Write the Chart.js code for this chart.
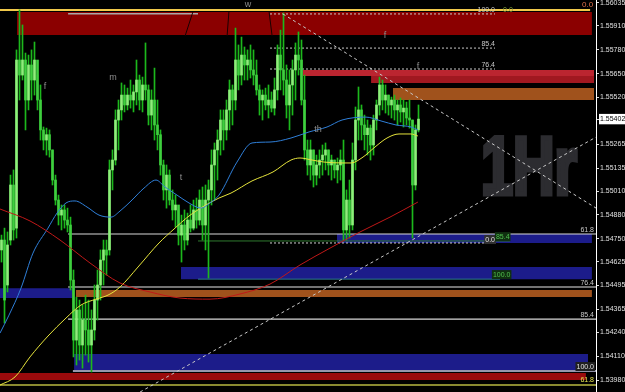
<!DOCTYPE html>
<html><head><meta charset="utf-8">
<script src="https://cdn.jsdelivr.net/npm/chart.js@4.4.1/dist/chart.umd.min.js"></script>
<style>html,body{margin:0;padding:0;background:#000;overflow:hidden}#wrap{width:625px;height:392px;position:relative}</style>
</head><body><div id="wrap"><canvas id="c" width="625" height="392"></canvas></div>
<script>
// ---------- DATA ----------
const candleHigh = [
1.54770,1.54808,1.54787,1.55097,1.55125,1.55779,1.55997,1.55915,1.55762,1.55751,
1.55779,1.55822,1.55642,1.55588,1.55359,1.55353,1.55343,1.55234,1.55097,1.54988,
1.54934,1.54934,1.54917,1.54868,1.54580,1.54432,1.54416,1.54389,1.54443,1.54416,
1.54362,1.54498,1.54580,1.54689,1.54743,1.54743,1.55179,1.55234,1.55452,1.55506,
1.55599,1.55588,1.55571,1.55615,1.55588,1.55724,1.55642,1.55631,1.55817,1.55588,
1.55561,1.55680,1.55506,1.55343,1.55179,1.55152,1.55125,1.55016,1.54988,1.54907,
1.54879,1.54907,1.54890,1.54934,1.54961,1.54972,1.55016,1.55032,1.55043,1.55070,
1.55234,1.55272,1.55343,1.55452,1.55452,1.55506,1.55615,1.55588,1.55898,1.55806,
1.55849,1.55795,1.55779,1.55806,1.55779,1.55724,1.55588,1.55561,1.55571,1.55588,
1.55550,1.55626,1.55806,1.55887,1.55980,1.55697,1.55670,1.55724,1.55817,1.55877,
1.55833,1.55642,1.55288,1.55288,1.55234,1.55206,1.55234,1.55261,1.55272,1.55234,
1.55206,1.55179,1.55190,1.55234,1.55288,1.55016,1.55070,1.55272,1.55468,1.55577,
1.55479,1.55424,1.55397,1.55370,1.55424,1.55506,1.55631,1.55615,1.55588,1.55533,
1.55522,1.55533,1.55506,1.55517,1.55506,1.55495,1.55506,1.55397,1.55370,1.55479];
const candleLow = [
1.54623,1.54291,1.54460,1.54716,1.54743,1.54754,1.55506,1.55615,1.55343,1.55452,
1.55506,1.55533,1.55452,1.55288,1.55234,1.55206,1.55195,1.55043,1.54934,1.54825,
1.54798,1.54808,1.54787,1.54471,1.54106,1.54062,1.54089,1.54045,1.54116,1.54078,
1.54024,1.54198,1.54307,1.54416,1.54498,1.54552,1.54661,1.55016,1.55152,1.55234,
1.55397,1.55441,1.55452,1.55462,1.55441,1.55479,1.55452,1.55441,1.55506,1.55370,
1.55343,1.55288,1.55234,1.55097,1.54961,1.54917,1.54934,1.54852,1.54814,1.54716,
1.54623,1.54689,1.54716,1.54787,1.54798,1.54808,1.54825,1.54743,1.54689,1.54536,
1.54934,1.54961,1.55070,1.55206,1.55234,1.55288,1.55343,1.55370,1.55452,1.55561,
1.55588,1.55615,1.55615,1.55626,1.55588,1.55533,1.55424,1.55397,1.55452,1.55408,
1.55441,1.55424,1.55506,1.55561,1.55533,1.55408,1.55343,1.55424,1.55506,1.55642,
1.55479,1.55179,1.55097,1.55070,1.55032,1.55043,1.55081,1.55097,1.55125,1.55097,
1.55070,1.55081,1.55054,1.55070,1.54743,1.54743,1.54754,1.54798,1.55125,1.55288,
1.55288,1.55234,1.55206,1.55179,1.55206,1.55343,1.55424,1.55452,1.55435,1.55424,
1.55408,1.55397,1.55370,1.55386,1.55359,1.55370,1.55353,1.54754,1.55016,1.55332];
const candleOpen = [
1.54689,1.54743,1.54498,1.54743,1.55043,1.54808,1.55724,1.55642,1.55724,1.55506,
1.55697,1.55615,1.55724,1.55506,1.55343,1.55288,1.55317,1.55234,1.55070,1.54961,
1.54879,1.54907,1.54852,1.54825,1.54525,1.54198,1.54362,1.54171,1.54307,1.54253,
1.54171,1.54253,1.54416,1.54498,1.54634,1.54689,1.54689,1.55125,1.55179,1.55397,
1.55452,1.55533,1.55479,1.55533,1.55506,1.55550,1.55615,1.55506,1.55588,1.55561,
1.55424,1.55506,1.55370,1.55317,1.55152,1.55016,1.55097,1.54961,1.54907,1.54934,
1.54770,1.54825,1.54743,1.54852,1.54808,1.54907,1.54852,1.54961,1.54825,1.54961,
1.55016,1.55152,1.55234,1.55288,1.55397,1.55343,1.55452,1.55561,1.55506,1.55724,
1.55642,1.55751,1.55697,1.55724,1.55670,1.55642,1.55561,1.55506,1.55533,1.55479,
1.55506,1.55462,1.55561,1.55751,1.55670,1.55615,1.55479,1.55588,1.55670,1.55751,
1.55724,1.55506,1.55234,1.55152,1.55234,1.55097,1.55152,1.55179,1.55206,1.55234,
1.55152,1.55179,1.55125,1.55152,1.55179,1.54798,1.54961,1.54825,1.55179,1.55397,
1.55452,1.55370,1.55317,1.55353,1.55261,1.55397,1.55479,1.55588,1.55506,1.55533,
1.55479,1.55506,1.55452,1.55479,1.55441,1.55462,1.55408,1.55397,1.55043,1.55343];
const candleClose = [
1.54743,1.54416,1.54716,1.55043,1.54798,1.55724,1.55642,1.55724,1.55506,1.55697,
1.55615,1.55724,1.55506,1.55343,1.55288,1.55317,1.55234,1.55070,1.54961,1.54879,
1.54907,1.54852,1.54825,1.54525,1.54198,1.54362,1.54171,1.54307,1.54253,1.54171,
1.54253,1.54416,1.54498,1.54634,1.54689,1.54661,1.55125,1.55179,1.55397,1.55452,
1.55533,1.55479,1.55533,1.55506,1.55550,1.55615,1.55506,1.55588,1.55561,1.55424,
1.55506,1.55370,1.55317,1.55152,1.55016,1.55097,1.54961,1.54907,1.54934,1.54770,
1.54825,1.54743,1.54852,1.54808,1.54907,1.54852,1.54961,1.54825,1.54961,1.55016,
1.55152,1.55234,1.55288,1.55397,1.55343,1.55452,1.55561,1.55506,1.55724,1.55642,
1.55751,1.55697,1.55724,1.55670,1.55642,1.55561,1.55506,1.55533,1.55479,1.55506,
1.55462,1.55561,1.55751,1.55670,1.55615,1.55479,1.55588,1.55670,1.55751,1.55724,
1.55506,1.55234,1.55152,1.55234,1.55097,1.55152,1.55179,1.55206,1.55234,1.55152,
1.55179,1.55125,1.55152,1.55179,1.54798,1.54961,1.54825,1.55179,1.55397,1.55452,
1.55370,1.55317,1.55353,1.55261,1.55397,1.55479,1.55588,1.55506,1.55533,1.55479,
1.55506,1.55452,1.55479,1.55441,1.55462,1.55408,1.55397,1.55043,1.55343,1.55402];

const priceTicks = [1.56035,1.55910,1.55780,1.55650,1.55520,1.55402,1.55265,1.55135,1.55010,1.54880,1.54750,1.54625,1.54495,1.54365,1.54240,1.54110,1.53980];
const currentPrice = 1.55402;

// moving averages (bar index, price)
const maRedX = [0,10,20,30,40,50,60,70,80,90,100,110,120,130,139.3];
const maRedY = [1.54912,1.54847,1.54743,1.54618,1.54509,1.54460,1.54427,1.54421,1.54449,1.54503,1.54607,1.54699,1.54787,1.54868,1.54950];
const maBlueX = [0,3,7,11,16,19,22,25,29,33,37,40,44,48,52,55,59,63,67,70,73,79,84,90,97,103,109,114,122,127,132,137,139.3];
const maBlueY = [1.54236,1.54334,1.54481,1.54672,1.54808,1.54890,1.54945,1.54956,1.54923,1.54879,1.54868,1.54901,1.54961,1.55026,1.55070,1.55032,1.54988,1.54945,1.54917,1.54945,1.54988,1.55168,1.55272,1.55277,1.55299,1.55332,1.55359,1.55397,1.55413,1.55392,1.55370,1.55359,1.55343];
const maYellowX = [0,5,10,16,22,27,32,36,40,46,53,58,63,68,73,77,84,91,97,100,104,108,114,117,121,125,129,133,137,139.3];
const maYellowY = [1.53953,1.53997,1.54106,1.54220,1.54318,1.54389,1.54421,1.54443,1.54487,1.54596,1.54727,1.54803,1.54874,1.54928,1.54972,1.54999,1.55065,1.55114,1.55179,1.55190,1.55179,1.55168,1.55163,1.55163,1.55195,1.55250,1.55299,1.55321,1.55321,1.55310];

// supply / demand zones
const zoneStart  = [5.67, 101, 123.7, 131, 112.3, 60.3, 0, 25.3, 24.7, 0];
const zoneEnd    = [197.3, 198, 198, 198, 197.3, 197.3, 24, 197.3, 196, 195.3];
const zoneTop    = [1.55986, 1.55670, 1.55637, 1.55571, 1.54776, 1.54596, 1.54481, 1.54471, 1.54122, 1.54018];
const zoneBottom = [1.55860, 1.55637, 1.55599, 1.55506, 1.54727, 1.54530, 1.54427, 1.54432, 1.54035, 1.53980];

// horizontal levels
const levelPrice = [1.55997, 1.55976, 1.55975, 1.55789, 1.55675, 1.54776, 1.54738, 1.54727, 1.54530, 1.54487, 1.54312, 1.54029, 1.53953];
const levelStart = [0, 22.7, 90, 90, 90, 22.7, 66, 90, 66, 22.7, 22.7, 24.3, 0];
const levelEnd   = [196.7, 66, 165, 165, 165, 198.7, 170, 165, 166.7, 198.7, 198.7, 198.7, 198.7];

// trend lines [x0, p0, x1, p1]
const trendA = [94.3, 1.55975, 198.7, 1.54917];
const trendB = [46.7, 1.53915, 198.7, 1.55304];
const waveLines = [[64.3,1.55986,61.7,1.55855],[76.3,1.55986,75.7,1.55855],[89.7,1.55986,90.7,1.55855]];

// ---------- STYLES ----------
const zoneColors = ['#8b0000','#bb2530','#a01820','#a0521c','#1c1c8a','#1c1c8a','#1c1c8a','#a0521c','#1c1c8a','#9a0a0c'];
const levelColors = ['#f0c84a','#a8a8a8','#c8c8c8','#c8c8c8','#c8c8c8','#d8d8d8','#2f7a2f','#d0d0d0','#2a7a86','#9a9a9a','#d8d8d8','#c8c8e6','#8a8a30'];
const levelWidths = [2,1.5,1,1,1,1.2,1,1,1,1.5,1.2,1.5,2];
const levelDashed = [false,false,true,true,true,false,false,true,false,false,false,false,false];

const textLabels = [
 {t:'w', x:82.7, p:1.56024, c:'#8c8c8c', a:'center', f:9},
 {t:'f', x:15, p:1.55582, c:'#8c8c8c', a:'center', f:9},
 {t:'m', x:37.7, p:1.55626, c:'#8c8c8c', a:'center', f:9},
 {t:'t', x:60.3, p:1.55081, c:'#8c8c8c', a:'center', f:9},
 {t:'th', x:106, p:1.55343, c:'#8c8c8c', a:'center', f:9},
 {t:'f', x:128.3, p:1.55855, c:'#8c8c8c', a:'center', f:9},
 {t:'f', x:139.3, p:1.55691, c:'#8c8c8c', a:'center', f:9},
 {t:'100.0', x:165, p:1.55997, c:'#c8c8c8', a:'right'},
 {t:'0.0', x:167.7, p:1.55997, c:'#7da03c', a:'left'},
 {t:'0.0', x:197.7, p:1.56024, c:'#e0704a', a:'right', f:8},
 {t:'85.4', x:165, p:1.55811, c:'#c8c8c8', a:'right'},
 {t:'76.4', x:165, p:1.55697, c:'#c8c8c8', a:'right'},
 {t:'61.8', x:198, p:1.54798, c:'#c8c8c8', a:'right'},
 {t:'0.0', x:165, p:1.54743, c:'#e0e0e0', a:'right', bg:'#303030'},
 {t:'85.4', x:165.3, p:1.54759, c:'#50c050', a:'left', bg:'#103010'},
 {t:'100.0', x:164.3, p:1.54552, c:'#50c050', a:'left', bg:'#103010'},
 {t:'76.4', x:198, p:1.54509, c:'#c8c8c8', a:'right'},
 {t:'85.4', x:198, p:1.54334, c:'#c8c8c8', a:'right'},
 {t:'100.0', x:198, p:1.54051, c:'#e0e0e0', a:'right', bg:'#202020'},
 {t:'61.8', x:198, p:1.53980, c:'#e6e650', a:'right'}
];

// ---------- DATASETS ----------
const datasets = [];
const seg = (x0,y0,x1,y1) => [{x:x0,y:y0},{x:x1,y:y1}];

// candles
datasets.push({type:'bar', data: candleHigh.map((h,i)=>({x:i+0.5, y:[candleLow[i], h]})),
  backgroundColor:'#1cb81c', barThickness:1, grouped:false, order:4});
datasets.push({type:'bar', data: candleOpen.map((o,i)=>({x:i+0.5, y:[o, candleClose[i]]})),
  backgroundColor: candleOpen.map((o,i)=> candleClose[i] >= o ? '#8ef07a' : '#3fcf3f'),
  barThickness:2, grouped:false, order:3});

// moving averages
[[maRedX,maRedY,'#c01818'],[maBlueX,maBlueY,'#2f7fd8'],[maYellowX,maYellowY,'#e6e43c']].forEach(([xs,ys,col])=>{
  datasets.push({type:'line', data: xs.map((x,k)=>({x, y:ys[k]})), borderColor:col, borderWidth:1,
    pointRadius:0, tension:0.4, cubicInterpolationMode:'monotone', fill:false, order:1});
});

// trend lines
[trendA, trendB].forEach(t=>{
  datasets.push({type:'line', data: seg(...t), borderColor:'#c8c8c8', borderWidth:1, borderDash:[3,3],
    pointRadius:0, fill:false, order:2});
});
waveLines.forEach(t=>{
  datasets.push({type:'line', data: seg(...t), borderColor:'#1a0000', borderWidth:1, pointRadius:0, fill:false, order:9});
});

// levels
levelPrice.forEach((p,k)=>{
  datasets.push({type:'line', data: seg(levelStart[k], p, levelEnd[k], p), borderColor:levelColors[k],
    borderWidth:levelWidths[k], borderDash: levelDashed[k] ? [2,2] : [], pointRadius:0, fill:false, order:10});
});

// zones
zoneTop.forEach((t,k)=>{
  datasets.push({type:'line', data: seg(zoneStart[k], t, zoneEnd[k], t), fill:{value: zoneBottom[k]},
    backgroundColor: zoneColors[k], borderColor:'rgba(0,0,0,0)', borderWidth:0, pointRadius:0, order:20});
});

// ---------- PLUGINS ----------
const watermark = {id:'wm', beforeDatasetsDraw(chart){
  const {ctx, scales:{x,y}} = chart;
  const px = x.getPixelForValue(160.3), py = y.getPixelForValue(1.54988);
  ctx.save();
  ctx.font = 'bold 82px "Liberation Sans", Arial, sans-serif';
  const w = ctx.measureText('1Hr').width;
  ctx.translate(px, py); ctx.scale(96/w, 1);
  ctx.fillStyle = '#2c2c30';
  ctx.strokeStyle = '#2c2c30';
  ctx.lineWidth = 5;
  ctx.lineJoin = 'miter';
  ctx.textBaseline = 'alphabetic';
  ctx.fillText('1Hr', 0, -1);
  ctx.strokeText('1Hr', 0, -1);
  ctx.restore();
}};
const labelsPlugin = {id:'lbl', afterDatasetsDraw(chart){
  const {ctx, scales:{x,y}} = chart;
  ctx.save();
  textLabels.forEach(l=>{
    const px = x.getPixelForValue(l.x), py = y.getPixelForValue(l.p);
    ctx.font = (l.f||7) + 'px "Liberation Sans", Arial, sans-serif';
    const w = ctx.measureText(l.t).width;
    const left = l.a==='right' ? px-w : (l.a==='center' ? px-w/2 : px);
    if (l.bg){ ctx.fillStyle = l.bg; ctx.fillRect(left-1, py-5, w+2, 9); }
    ctx.fillStyle = l.c; ctx.textBaseline = 'middle'; ctx.textAlign = 'left';
    ctx.fillText(l.t, left, py);
  });
  ctx.restore();
}};

new Chart(document.getElementById('c'), {
  type:'bar',
  data:{datasets},
  options:{
    responsive:false, animation:false, devicePixelRatio:1,
    layout:{padding:0},
    plugins:{legend:{display:false}, tooltip:{enabled:false}},
    scales:{
      x:{type:'linear', min:0, max:596/3, display:false, offset:false},
      y:{type:'linear', position:'right', min:1.53915, max:1.56051,
        afterBuildTicks: s => { s.ticks = priceTicks.map(v=>({value:v})); },
        afterFit: s => { s.width = 29; s.paddingTop = 0; s.paddingBottom = 0; },
        grid:{drawOnChartArea:false, drawTicks:true, tickLength:3, color:'#dddddd'},
        border:{display:true, color:'#ffffff', width:1},
        ticks:{padding:1, autoSkip:false, maxRotation:0,
          font:{family:'"Liberation Sans", Arial, sans-serif', size:7},
          color: c => (c.tick && c.tick.value===currentPrice) ? '#000000' : '#e0e0e0',
          showLabelBackdrop: c => !!(c.tick && c.tick.value===currentPrice),
          backdropColor:'#ffffff', backdropPadding:{top:1,bottom:1,left:1,right:2},
          callback: v => Number(v).toFixed(5)}
      }
    }
  },
  plugins:[watermark, labelsPlugin]
});
</script>
</body></html>
